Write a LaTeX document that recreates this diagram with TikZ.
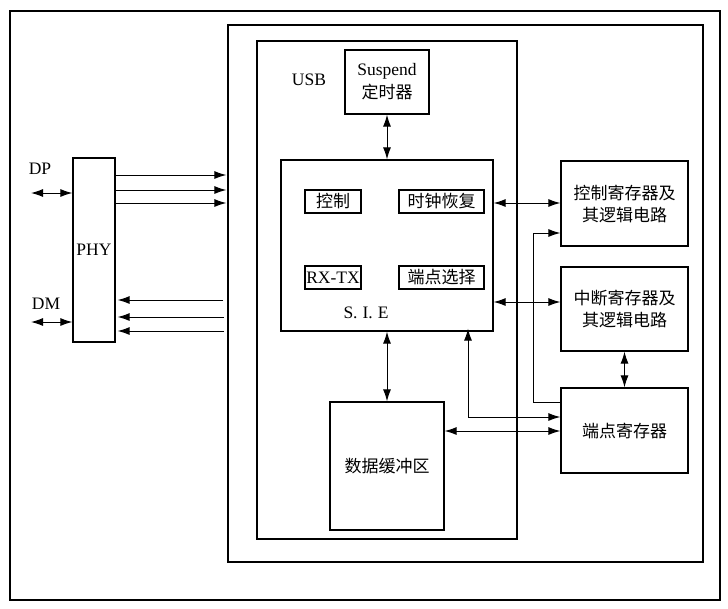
\documentclass[tikz,border=0pt]{standalone}
\usepackage{fontspec}
\setmainfont{Liberation Serif}
\newfontfamily\cjk{Noto Sans CJK SC}
\usetikzlibrary{arrows.meta}
\begin{document}
\begin{tikzpicture}[x=1pt,y=-1pt,
  blk/.style={draw, line width=1.2pt, inner sep=0pt, align=center},
  lat/.style={font=\fontsize{17.5}{21}\selectfont},
  zh/.style={font=\fontsize{17}{22}\selectfont\cjk},
  con/.style={line width=1pt},
  one/.style={con, -{Latex[length=12,width=8]}},
  dbl/.style={con, {Latex[length=12,width=8]}-{Latex[length=12,width=8]}}]
\useasboundingbox (0,0) rectangle (728,608);
% frames
\node[blk, line width=1.4pt, minimum width=710, minimum height=589] (outer) at (365,305.5) {};
\node[blk, minimum width=475, minimum height=537] (big) at (465.5,293.5) {};
\node[blk, minimum width=260, minimum height=498] (usb) at (387,290) {};
\node[lat] (usbl) at (309,80) {USB};
% inner blocks
\node[blk, minimum width=84, minimum height=64] (susp) at (387,82)
  {\fontsize{17.5}{21}\selectfont Suspend\\[4pt]\fontsize{17}{21}\selectfont\cjk 定时器};
\node[blk, minimum width=212, minimum height=171] (sie) at (387,245.5) {};
\node[blk, zh, minimum width=56, minimum height=23] (ctl) at (333,201.5) {控制};
\node[blk, zh, minimum width=85, minimum height=23] (clk) at (441.5,201.5) {时钟恢复};
\node[blk, lat, minimum width=56, minimum height=23] (rxtx) at (333,277.5) {RX-TX};
\node[blk, zh, minimum width=85, minimum height=23] (eps) at (441.5,277.5) {端点选择};
\node[lat] (siel) at (366,313) {S.\hspace{5pt}I.\hspace{5pt}E};
\node[blk, zh, minimum width=114, minimum height=128] (buf) at (387,466) {数据缓冲区};
% registers
\node[blk, zh, minimum width=127, minimum height=85] (creg) at (624.5,203.5) {控制寄存器及\\其逻辑电路};
\node[blk, zh, minimum width=127, minimum height=84] (ireg) at (624.5,309) {中断寄存器及\\其逻辑电路};
\node[blk, zh, minimum width=127, minimum height=85] (ereg) at (624.5,430.5) {端点寄存器};
% PHY
\node[blk, lat, minimum width=42, minimum height=184] (phy) at (94,250) {PHY};
\node[lat] (dpl) at (40,169) {DP};
\node[lat] (dml) at (46,304) {DM};
\coordinate (dpa) at (31,193);
\coordinate (dma) at (31,322);
\draw[dbl] (dpa) -- (dpa -| phy.west);
\draw[dbl] (dma) -- (dma -| phy.west);
% PHY buses
\coordinate (r1) at (0,175);
\coordinate (r2) at (0,190);
\coordinate (r3) at (0,203);
\coordinate (l1) at (223,300);
\coordinate (l2) at (224,317);
\coordinate (l3) at (224,331);
\draw[one] (phy.east |- r1) -- ([xshift=-1]big.west |- r1);
\draw[one] (phy.east |- r2) -- ([xshift=-1]big.west |- r2);
\draw[one] (phy.east |- r3) -- ([xshift=-1]big.west |- r3);
\draw[one] (l1) -- ([xshift=2]phy.east |- l1);
\draw[one] (l2) -- ([xshift=2]phy.east |- l2);
\draw[one] (l3) -- ([xshift=2]phy.east |- l3);
% USB internal
\draw[dbl] (susp.south) -- (sie.north);
\draw[dbl] (sie.south) -- (buf.north);
\coordinate (c1) at (0,203);
\coordinate (c2) at (0,302);
\draw[dbl] (sie.east |- c1) -- (creg.west |- c1);
\draw[dbl] (sie.east |- c2) -- (ireg.west |- c2);
\draw[dbl] (ireg.south) -- (ereg.north);
\coordinate (b1) at (0,431);
\draw[dbl] (buf.east |- b1) -- (ereg.west |- b1);
\coordinate (p1) at (468,417);
\draw[dbl] ([yshift=3]sie.south -| p1) -- (p1) -- (ereg.west |- p1);
\coordinate (p2) at (533,402);
\coordinate (p3) at (533,233);
\draw[one] (ereg.west |- p2) -- (p2) -- (p3) -- (creg.west |- p3);
\end{tikzpicture}
\end{document}
